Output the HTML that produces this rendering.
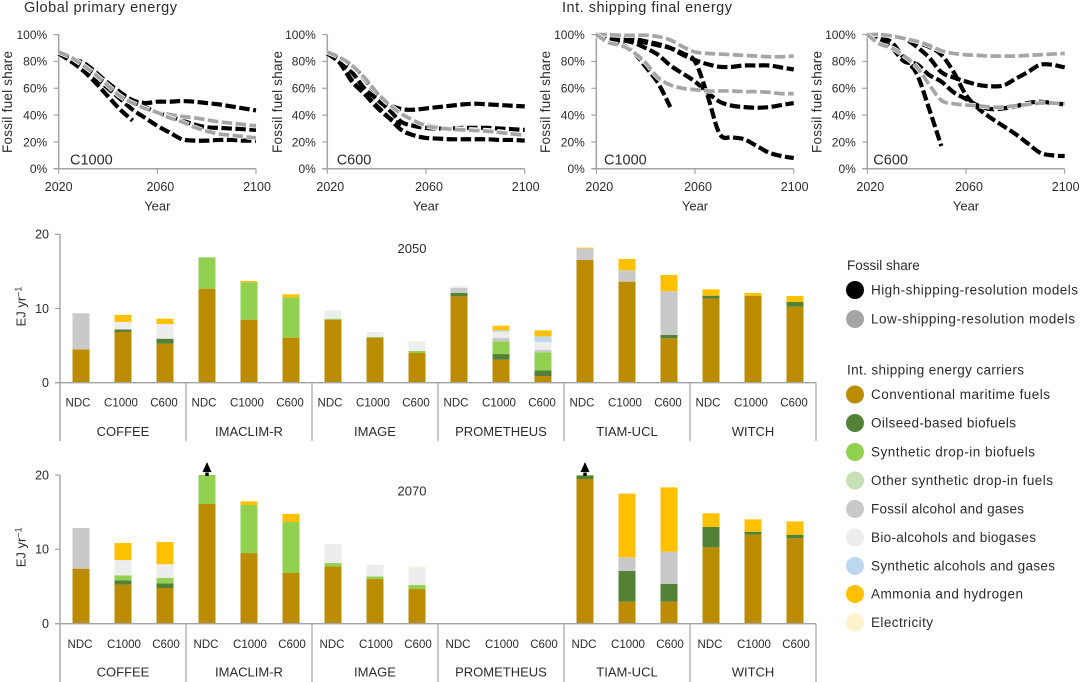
<!DOCTYPE html>
<html lang="en">
<head>
<meta charset="utf-8">
<title>Fossil share and shipping energy carriers</title>
<style>
html,body{margin:0;padding:0;background:#fff;width:1080px;height:682px;overflow:hidden}
svg{display:block;font-family:"Liberation Sans",sans-serif;fill:#2b2b2b}
text{fill:#2b2b2b}
</style>
</head>
<body>
<svg id="fig" xmlns="http://www.w3.org/2000/svg" width="1080" height="682" viewBox="0 0 1080 682">
  <text x="24" y="12" font-size="14.5" textLength="153">Global primary energy</text>
  <text x="562" y="12" font-size="14.5" textLength="170">Int. shipping final energy</text>
  <g font-size="13.5">
    <text x="847" y="270">Fossil share</text>
    <circle cx="855" cy="290" r="9" fill="#000"/>
    <text x="871" y="294.500" textLength="207">High-shipping-resolution models</text>
    <circle cx="855" cy="319" r="9" fill="#a5a5a5"/>
    <text x="871" y="323.500" textLength="204">Low-shipping-resolution models</text>
    <text x="847" y="374.500" textLength="177">Int. shipping energy carriers</text>
    <circle cx="855" cy="394.500" r="9" fill="#bb8c00"/>
    <text x="871" y="399" textLength="179">Conventional maritime fuels</text>
    <circle cx="855" cy="423" r="9" fill="#538135"/>
    <text x="871" y="427.500" textLength="145">Oilseed-based biofuels</text>
    <circle cx="855" cy="452" r="9" fill="#92d050"/>
    <text x="871" y="456.500" textLength="164">Synthetic drop-in biofuels</text>
    <circle cx="855" cy="480.500" r="9" fill="#c5e0b4"/>
    <text x="871" y="485" textLength="182">Other synthetic drop-in fuels</text>
    <circle cx="855" cy="509" r="9" fill="#c9c9c9"/>
    <text x="871" y="513.500" textLength="153">Fossil alcohol and gases</text>
    <circle cx="855" cy="537.500" r="9" fill="#ededed"/>
    <text x="871" y="542" textLength="165">Bio-alcohols and biogases</text>
    <circle cx="855" cy="566" r="9" fill="#bdd7ee"/>
    <text x="871" y="570.500" textLength="184">Synthetic alcohols and gases</text>
    <circle cx="855" cy="594" r="9" fill="#ffc000"/>
    <text x="871" y="598.500" textLength="152">Ammonia and hydrogen</text>
    <circle cx="855" cy="622.500" r="9" fill="#fff2cc"/>
    <text x="871" y="627" textLength="62">Electricity</text>
  </g>
</svg>
<script>
// ---------- Line chart data (fossil share, %) ----------
const years = [2020,2025,2030,2035,2040,2045,2050,2055,2060,2065,2070,2075,2080,2085,2090,2095,2100];
const shareTicks = [0,20,40,60,80,100];
const yearTicks = [2020,2060,2100];

const globalC1000High1 = [86,82,79,72,64,57,51,49,50,50,50.5,50,49,48,46.5,45,43.5];
const globalC1000High2 = [86,82,77,70,62,56,50,46,42,39,36,33,31,30.5,30,29.5,29];
const globalC1000High3 = [86,81,76,68,60,52,44,38,32,27,22,21,21,21.5,21.5,21,21];
const globalC1000High4 = [86,80,73,64,54,44,36];
const globalC1000Low1 = [87,83,77,70,62,54,49,45,42,40.5,39,38,36.5,35,34,33,32];
const globalC1000Low2 = [87,83,77,70,62,54,49,45,42,38,35,31,28,26,25,24,23];

const globalC600High1 = [86,82,77,67,56,48,44.5,44,45,46,47,48,48.5,48,47.5,47,46.5];
const globalC600High2 = [86,80,72,60,52,44,35,32,30.5,30,30,30.5,30.5,30.5,30,29.5,29];
const globalC600High3 = [86,79,65,56,47,38,29,25,23,22.5,22,22,22,22,21.5,21.5,21];
const globalC600High4 = [86,80,66,56,46,38,33];
const globalC600Low1 = [87,83,76,68,57,48,41,36,33,31,30,29.5,29,28.5,27.5,26,25];
const globalC600Low2 = [87,83,77,68,57,48,41,36,32,30.5,29.5,29,28.5,28,27,26,25];

const shipC1000High1 = [100,100,99,97,95,93,90,85,81,78,76,76,77,77,77,75.5,74];
const shipC1000High2 = [100,97,96,94,90,85,77,71,65,57,50,47,46,45.5,46,47.5,49];
const shipC1000High3 = [100,100,99,96,94,92,90,86,80,55,26,23.5,22,17,12,9.5,8];
const shipC1000High4 = [100,97,93,87,76,64,46];
const shipC1000Low1 = [100,100,99.5,99.5,99.5,98.5,96,91,87,86,85.5,85,84.5,84,83.5,83.5,84];
const shipC1000Low2 = [100,94,92,87,79,68,62.5,60,59,58,58,58,57.5,57.5,57,56,56];

const shipC600High1 = [100,100,99,97,91,83,72,68,65,62.5,61.5,62,67,72,77.5,77.5,75.5];
const shipC600High2 = [100,100,99,97,94,91,85,72,55,45,38,32,26,19,12,10,9.5];
const shipC600High3 = [100,96,90,80,78,70,65,57,52,47,44.5,45,46.5,49,50,49,48];
const shipC600High4 = [100,98,94,82,71,45,17];
const shipC600Low1 = [100,100,99,97,95,92,88,86,85,84.5,84,84,84,84.5,85,85.5,86];
const shipC600Low2 = [100,93,90,84,76,63,51,48.5,47.5,47,46,46,47,48,49,49,48.5];

// ---------- Bar chart data (EJ per year), order: NDC, C1000, C600 for each model ----------
const models = ['COFFEE','IMACLIM-R','IMAGE','PROMETHEUS','TIAM-UCL','WITCH'];
const scenarios = ['NDC','C1000','C600'];
const energyTicks = [0,10,20];
const carrierNames = ['conventional','oilseed','synthetic-biofuel','other-synthetic','fossil-alcohol','bio-alcohol','synthetic-alcohol','ammonia','electricity'];
const carrierColors = ['#bb8c00','#538135','#92d050','#c5e0b4','#c9c9c9','#ededed','#bdd7ee','#ffc000','#fff2cc'];

const conventional2050 = [4.5,6.83,5.26, 12.67,8.49,6.07, 8.49,6.07,4.0, 11.64,3.1,0.9, 16.54,13.62,5.98, 11.33,11.69,10.25];
const oilseed2050 = [0,0.36,0.67, 0,0,0, 0,0,0, 0.45,0.76,0.76, 0,0,0.45, 0.4,0,0.63];
const syntheticBiofuel2050 = [0,0,0, 4.22,5.03,5.44, 0.13,0.09,0.27, 0,1.71,2.43, 0,0,0, 0,0,0];
const otherSynthetic2050 = [0,0,0, 0,0,0, 0,0,0, 0,0,0, 0,0,0, 0,0,0];
const fossilAlcohol2050 = [4.85,0,0, 0,0,0, 0,0,0, 0.67,0.45,0.31, 1.57,1.53,5.89, 0,0,0];
const bioAlcohol2050 = [0,1.0,1.98, 0,0,0, 1.12,0.67,1.3, 0.27,0.85,1.08, 0,0,0, 0,0,0];
const syntheticAlcohol2050 = [0,0,0, 0,0,0, 0,0,0, 0,0.18,0.76, 0,0,0, 0,0,0];
const ammonia2050 = [0,0.95,0.72, 0,0.18,0.4, 0,0,0, 0,0.63,0.81, 0.09,1.53,2.2, 0.85,0.4,0.81];
const electricity2050 = [0,0,0, 0,0,0, 0,0,0.07, 0,0,0, 0,0,0, 0,0,0];

const conventional2070 = [7.4,5.25,4.8, 16.1,9.5,6.82, 7.71,6.0,4.66, 0,0,0, 19.46,2.96,2.96, 10.27,11.97,11.48];
const oilseed2070 = [0,0.58,0.63, 0,0,0, 0,0,0, 0,0,0, 0.45,4.13,2.38, 2.74,0.4,0.49];
const syntheticBiofuel2070 = [0,0.67,0.72, 3.9,6.46,6.86, 0.45,0.36,0.54, 0,0,0, 0.09,0,0, 0,0,0];
const otherSynthetic2070 = [0,0,0, 0,0,0, 0,0,0, 0,0,0, 0,0,0, 0,0,0];
const fossilAlcohol2070 = [5.47,0,0, 0,0,0, 0,0,0, 0,0,0, 0,1.84,4.35, 0,0,0];
const bioAlcohol2070 = [0,2.06,1.84, 0,0,0, 2.56,1.57,2.38, 0,0,0, 0,0,0, 0,0,0];
const syntheticAlcohol2070 = [0,0,0, 0,0,0, 0,0,0, 0,0,0, 0,0,0, 0,0,0];
const ammonia2070 = [0,2.29,3.0, 0,0.49,1.08, 0,0,0, 0,0,0, 0,8.57,8.65, 1.84,1.66,1.79];
const electricity2070 = [0,0,0, 0,0,0, 0,0,0.13, 0,0,0, 0,0,0, 0,0,0];
const offScale2070 = [3,12];

const stacks2050 = [conventional2050,oilseed2050,syntheticBiofuel2050,otherSynthetic2050,fossilAlcohol2050,bioAlcohol2050,syntheticAlcohol2050,ammonia2050,electricity2050];
const stacks2070 = [conventional2070,oilseed2070,syntheticBiofuel2070,otherSynthetic2070,fossilAlcohol2070,bioAlcohol2070,syntheticAlcohol2070,ammonia2070,electricity2070];

// ---------- Drawing ----------
const NS = 'http://www.w3.org/2000/svg';
const fig = document.getElementById('fig');
const AXIS = '#a3a3a3';

function make(tag, attrs, parent, label) {
  const el = document.createElementNS(NS, tag);
  for (const k in attrs) el.setAttribute(k, attrs[k]);
  if (label !== undefined) el.textContent = label;
  parent.appendChild(el);
  return el;
}
function smoothPath(pts) {
  let d = 'M' + pts[0][0].toFixed(2) + ' ' + pts[0][1].toFixed(2);
  for (let i = 0; i < pts.length - 1; i++) {
    const p0 = pts[Math.max(i - 1, 0)], p1 = pts[i], p2 = pts[i + 1], p3 = pts[Math.min(i + 2, pts.length - 1)];
    const c1x = p1[0] + (p2[0] - p0[0]) / 6, c1y = p1[1] + (p2[1] - p0[1]) / 6;
    const c2x = p2[0] - (p3[0] - p1[0]) / 6, c2y = p2[1] - (p3[1] - p1[1]) / 6;
    d += 'C' + c1x.toFixed(2) + ' ' + c1y.toFixed(2) + ' ' + c2x.toFixed(2) + ' ' + c2y.toFixed(2) + ' ' + p2[0].toFixed(2) + ' ' + p2[1].toFixed(2);
  }
  return d;
}

function linePanel(name, left, right, tag, titleX, tagShift, firstLabelShift, highSeries, lowSeries) {
  const top = 34.6, bottom = 168.8;
  const g = make('g', {}, fig);
  
  
  const sx = v => left + (v - 2020) / 80 * (right - left);
  const sy = v => bottom - v / 100 * (bottom - top);

  const yAxis = make('line', {x1:left, x2:left, y1:top, y2:bottom, stroke:AXIS, 'stroke-width':1.5}, g);
  
  
  const xAxis = make('line', {x1:left-5, x2:right, y1:bottom, y2:bottom, stroke:AXIS, 'stroke-width':1.5}, g);
  
  

  shareTicks.forEach(t => {
    const tick = make('line', {x1:left-5, x2:left, y1:sy(t), y2:sy(t), stroke:AXIS, 'stroke-width':1.2}, g);
    
    
    const lab = make('text', {x:left-11.5, y:sy(t)+4.3, 'text-anchor':'end', 'font-size':12}, g, t + '%');
    
    
  });
  yearTicks.forEach((t, i) => {
    const tick = make('line', {x1:sx(t), x2:sx(t), y1:bottom, y2:bottom+5, stroke:AXIS, 'stroke-width':1.2}, g);
    
    
    const shift = i === 0 ? firstLabelShift : (i === 1 ? 3 : 1);
    const lab = make('text', {x:sx(t)+shift, y:191, 'text-anchor':'middle', 'font-size':12.5}, g, String(t));
    
    
  });
  const xt = make('text', {x:(left+right)/2, y:210.500, 'text-anchor':'middle', 'font-size':13}, g, 'Year');
  
  
  const yt = make('text', {transform:'translate(' + titleX + ' 102) rotate(-90)', 'text-anchor':'middle', 'font-size':13.5, textLength:102}, g, 'Fossil fuel share');
  
  
  const sc = make('text', {x:left+tagShift, y:164.500, 'font-size':14.5}, g, tag);
  
  

  function series(values, color, kind, width, halo) {
    const pts = values.map((v, i) => [sx(years[i]), sy(v)]);
    const d = smoothPath(pts);
    if (halo) {
      const h = make('path', {d:d, fill:'none', stroke:'#fff', 'stroke-width':width+1.4, 'stroke-dasharray':'10.5 3.5'}, g);
      
      
    }
    const p = make('path', {d:d, fill:'none', stroke:color, 'stroke-width':width, 'stroke-dasharray':'10.5 3.5'}, g);
    
    
  }
  highSeries.forEach(v => series(v, '#000', 'high-resolution', 4.2, false));
  lowSeries.forEach(v => series(v, '#a5a5a5', 'low-resolution', 3.7, true));
}

linePanel('global-c1000', 58.700, 256, 'C1000', 12, 11.3, 0,
  [globalC1000High1,globalC1000High2,globalC1000High3,globalC1000High4], [globalC1000Low1,globalC1000Low2]);
linePanel('global-c600', 327.300, 524.700, 'C600', 282, 9.4, 3,
  [globalC600High1,globalC600High2,globalC600High3,globalC600High4], [globalC600Low1,globalC600Low2]);
linePanel('shipping-c1000', 596.300, 793.700, 'C1000', 550, 7.7, 3,
  [shipC1000High1,shipC1000High2,shipC1000High3,shipC1000High4], [shipC1000Low1,shipC1000Low2]);
linePanel('shipping-c600', 867.300, 1064.700, 'C600', 821.500, 6, 3,
  [shipC600High1,shipC600High2,shipC600High3,shipC600High4], [shipC600Low1,shipC600Low2]);

function barPanel(name, yearLabel, yearLabelY, stacks, yTop, yZero, labelY, groupY, axisEnd, labelOffsets, offScale) {
  const left = 60, groupW = 126, barW = 17;
  const g = make('g', {}, fig);
  
  
  const sy = v => yZero - v / 20 * (yZero - yTop);
  const cx = i => left + 21 + Math.floor(i / 3) * groupW + (i % 3) * 42;

  for (let i = 0; i < models.length * scenarios.length; i++) {
    let base = 0;
    stacks.forEach((vals, c) => {
      if (!vals[i]) return;
      const r = make('rect', {x:cx(i)-barW/2, y:sy(base+vals[i]), width:barW, height:sy(base)-sy(base+vals[i]), fill:carrierColors[c]}, g);
      
      
      base += vals[i];
    });
  }
  offScale.forEach(i => {
    const a = make('path', {d:'M' + (cx(i)-4.5) + ' ' + (yTop-3) + 'h9l-4.5 -10z', fill:'#000'}, g);
    
    
    const s = make('rect', {x:cx(i)-1.7, y:yTop-2.500, width:3.4, height:3.500, fill:'#000'}, g);
    
    
  });

  const yAxis = make('line', {x1:left, x2:left, y1:yTop, y2:axisEnd, stroke:AXIS, 'stroke-width':1.4}, g);
  
  
  const xAxis = make('line', {x1:left-5, x2:left+groupW*models.length, y1:yZero, y2:yZero, stroke:AXIS, 'stroke-width':1.4}, g);
  
  

  energyTicks.forEach(t => {
    const tick = make('line', {x1:left-5, x2:left, y1:sy(t), y2:sy(t), stroke:AXIS, 'stroke-width':1.2}, g);
    
    
    const lab = make('text', {x:left-11, y:sy(t)+4.3, 'text-anchor':'end', 'font-size':12.5}, g, String(t));
    
    
  });

  models.forEach((m, k) => {
    if (k > 0) {
      const sep = make('line', {x1:left+k*groupW, x2:left+k*groupW, y1:yZero, y2:axisEnd, stroke:AXIS, 'stroke-width':1.2}, g);
      
      
    }
    const lab = make('text', {x:left+k*groupW+groupW/2, y:groupY, 'text-anchor':'middle', 'font-size':13}, g, m);
    
    
    scenarios.forEach((s, j) => {
      const sl = make('text', {x:cx(k*3+j)+labelOffsets[j], y:labelY, 'text-anchor':'middle', 'font-size':11.5}, g, s);
      
      
    });
  });
  const end = make('line', {x1:left+6*groupW, x2:left+6*groupW, y1:yZero, y2:axisEnd, stroke:AXIS, 'stroke-width':1.2}, g);
  
  

  const yt = make('text', {transform:'translate(25.500 ' + ((yTop+yZero)/2 - 2) + ') rotate(-90)', 'text-anchor':'middle', 'font-size':13}, g);
  
  
  make('tspan', {}, yt, 'EJ yr');
  make('tspan', {dy:-4, 'font-size':9}, yt, '\u22121');
  const yl = make('text', {x:412, y:yearLabelY, 'text-anchor':'middle', 'font-size':13}, g, yearLabel);
  
  
}

barPanel('year-2050', '2050', 252.800, stacks2050, 234.300, 382.700, 406.700, 436, 441, [-3,-2,-1], []);
barPanel('year-2070', '2070', 495.500, stacks2070, 475, 623.700, 648, 676.500, 682, [-1,1,1], offScale2070);
</script>
</body>
</html>
